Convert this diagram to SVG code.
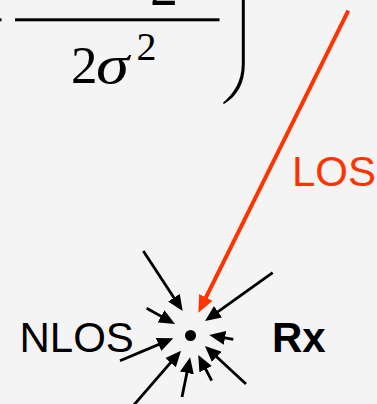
<svg xmlns="http://www.w3.org/2000/svg" width="377" height="404" viewBox="0 0 377 404">
<defs>
<style>
.bk{stroke:#000;stroke-width:2.8;fill:none;marker-end:url(#hb)}
.rd{stroke:#ff3300;stroke-width:4;fill:none;marker-end:url(#hr)}
.lbl{font-family:"Liberation Sans",Arial,sans-serif;font-size:42px}
.math{font-family:"Liberation Serif","Times New Roman",serif;fill:#000}
</style>
<marker id="hb" markerUnits="userSpaceOnUse" markerWidth="16" markerHeight="14" refX="12" refY="7" orient="auto"><path d="M0,0 L16,7 L0,14 z" fill="#000"/></marker>
<marker id="hr" markerUnits="userSpaceOnUse" markerWidth="17" markerHeight="15" refX="11" refY="7.5" orient="auto"><path d="M0,0 L17,7.5 L0,15 z" fill="#ff3300"/></marker>
</defs>
<rect width="377" height="404" fill="#f4f4f4"/>
<g id="formula">
<rect x="0" y="18.3" width="1.5" height="3" fill="#000"/>
<text class="math" x="150" y="5" font-size="56">2</text>
<rect x="15" y="18.3" width="204.5" height="3" fill="#000"/>
<text class="math" x="71" y="82.7" font-size="53">2</text>
<text class="math" x="96" y="82.7" font-size="55" font-style="italic" textLength="33" lengthAdjust="spacingAndGlyphs">σ</text>
<text class="math" x="136.5" y="59.5" font-size="40">2</text>
<path d="M241.8,0 L244.8,0 L244.8,64 C244.8,84 237,96 224,104 L222.8,103 C233,94 241.8,82 241.8,64 Z" fill="#000"/>
</g>
<g id="connectors">
<line class="rd" x1="348.3" y1="10.7" x2="201" y2="307.3"/>
<line class="bk" x1="143.3" y1="251" x2="180.5" y2="307.7"/>
<line class="bk" x1="146.7" y1="308.3" x2="171.5" y2="322.1"/>
<line class="bk" x1="120" y1="360.7" x2="169.6" y2="339.9"/>
<line class="bk" x1="133" y1="406" x2="178.4" y2="353.7"/>
<line class="bk" x1="182" y1="397" x2="189.3" y2="361.2"/>
<line class="bk" x1="211.7" y1="380.7" x2="200.1" y2="358.5"/>
<line class="bk" x1="246" y1="384" x2="207.9" y2="348.7"/>
<line class="bk" x1="233.3" y1="339.3" x2="213.2" y2="335.7"/>
<line class="bk" x1="272.7" y1="272.7" x2="208.3" y2="318.7"/>
</g>
<g id="los-label">
<text class="lbl" x="292" y="186" font-size="41" fill="#ff3300">LOS</text>
</g>
<g id="nlos-label">
<text class="lbl" x="19.5" y="351.7" fill="#000">NLOS</text>
</g>
<g id="rx">
<circle cx="190.5" cy="335.5" r="5.5" fill="#000"/>
<text class="lbl" x="272" y="351.7" font-weight="bold" fill="#000">Rx</text>
</g>
</svg>
